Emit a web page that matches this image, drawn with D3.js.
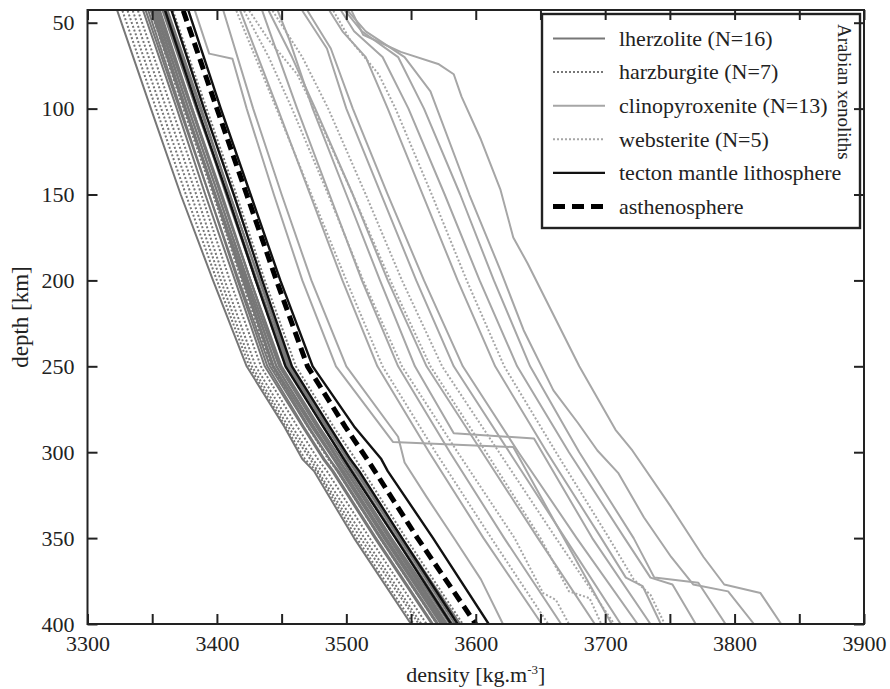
<!DOCTYPE html>
<html>
<head>
<meta charset="utf-8">
<script src="https://cdn.jsdelivr.net/npm/d3@7"></script>
<style>
  body { margin: 0; background: #fff; }
  svg text { font-family: "Liberation Serif", "DejaVu Serif", serif; fill: #222; }
</style>
</head>
<body>
<svg id="chart" width="890" height="689" font-family="Liberation Serif, serif"></svg>
<script>
// ---- data -------------------------------------------------------------
// depth levels (km) shared by the peridotite and reference profiles
const depthGrid = [43, 100, 150, 200, 250, 285, 304, 311, 350, 400];

// density (kg/m3) at each depthGrid level
const asthenosphere = [3374, 3400, 3423, 3446, 3470, 3499, 3516, 3522, 3555, 3600];

const tecton = [
  [3360, 3385, 3408, 3430, 3453, 3482, 3498, 3504, 3538, 3581],
  [3365, 3390, 3413, 3435, 3458, 3487, 3503, 3510, 3543, 3586],
  [3378, 3403, 3426, 3449, 3474, 3506, 3527, 3532, 3567, 3610]
];

const lherzolite = [
  [3323, 3349, 3372, 3397, 3423, 3452, 3466, 3475, 3506, 3550],
  [3343, 3369, 3391, 3414, 3437, 3466, 3482, 3489, 3522, 3566],
  [3345, 3371, 3394, 3417, 3441, 3470, 3487, 3493, 3526, 3570],
  [3347, 3372, 3394, 3416, 3439, 3467, 3483, 3490, 3523, 3567],
  [3349, 3375, 3398, 3421, 3444, 3473, 3490, 3496, 3529, 3573],
  [3350, 3376, 3399, 3422, 3446, 3475, 3491, 3498, 3531, 3575],
  [3351, 3376, 3398, 3420, 3443, 3471, 3487, 3494, 3527, 3571],
  [3352, 3378, 3401, 3424, 3448, 3477, 3493, 3500, 3533, 3577],
  [3353, 3378, 3401, 3423, 3446, 3474, 3491, 3497, 3530, 3574],
  [3354, 3380, 3403, 3426, 3450, 3479, 3496, 3502, 3535, 3580],
  [3355, 3381, 3403, 3426, 3449, 3478, 3494, 3500, 3534, 3578],
  [3356, 3381, 3404, 3426, 3449, 3477, 3493, 3500, 3533, 3576],
  [3358, 3384, 3408, 3431, 3455, 3484, 3501, 3507, 3541, 3586],
  [3359, 3385, 3407, 3430, 3454, 3482, 3499, 3505, 3539, 3582],
  [3361, 3387, 3410, 3433, 3457, 3486, 3503, 3509, 3543, 3588],
  [3362, 3388, 3410, 3433, 3456, 3485, 3501, 3508, 3541, 3584]
];

const harzburgite = [
  [3327, 3353, 3376, 3400, 3425, 3453, 3468, 3477, 3508, 3552],
  [3331, 3357, 3380, 3403, 3427, 3455, 3472, 3478, 3511, 3556],
  [3335, 3361, 3384, 3406, 3430, 3458, 3474, 3481, 3514, 3558],
  [3339, 3365, 3388, 3410, 3434, 3462, 3478, 3485, 3518, 3562],
  [3349, 3374, 3397, 3419, 3442, 3470, 3486, 3493, 3526, 3570],
  [3359, 3385, 3408, 3430, 3453, 3482, 3498, 3504, 3538, 3582],
  [3366, 3392, 3415, 3437, 3461, 3490, 3507, 3513, 3546, 3590]
];

// pyroxenite profiles as [depth km, density kg/m3] pairs
const clinopyroxenite = [
  [[43,3383],[68,3394],[71,3412],[100,3423],[150,3444],[200,3466],[250,3492],[294,3536],[297,3629],[350,3668],[400,3705]],
  [[43,3405],[100,3428],[150,3450],[200,3473],[250,3500],[291,3540],[306,3545],[326,3562],[351,3584],[374,3604],[400,3621]],
  [[43,3418],[100,3447],[150,3472],[200,3497],[250,3524],[300,3564],[350,3606],[400,3651]],
  [[43,3435],[60,3443],[100,3462],[150,3487],[200,3512],[250,3540],[300,3580],[350,3622],[400,3666]],
  [[43,3440],[70,3458],[100,3476],[150,3505],[200,3532],[250,3562],[300,3605],[350,3648],[400,3692]],
  [[43,3447],[60,3456],[100,3474],[150,3500],[200,3526],[250,3553],[289,3583],[292,3645],[350,3690],[400,3735]],
  [[43,3466],[65,3485],[100,3500],[150,3527],[200,3554],[250,3583],[300,3626],[350,3669],[400,3712]],
  [[43,3470],[65,3488],[100,3505],[150,3532],[200,3560],[250,3590],[300,3633],[350,3678],[400,3725]],
  [[43,3487],[55,3497],[70,3515],[100,3532],[150,3559],[200,3586],[250,3615],[300,3655],[350,3697],[373,3716],[378,3729],[400,3743]],
  [[43,3496],[55,3506],[70,3528],[100,3548],[150,3576],[200,3603],[250,3632],[300,3672],[350,3715],[373,3735],[377,3752],[400,3770]],
  [[43,3499],[55,3512],[70,3540],[100,3560],[150,3588],[200,3614],[250,3642],[287,3670],[300,3680],[350,3722],[373,3738],[376,3772],[400,3793]],
  [[43,3501],[55,3515],[70,3545],[90,3565],[150,3595],[194,3619],[229,3637],[264,3660],[283,3679],[299,3694],[312,3710],[338,3730],[361,3751],[377,3768],[381,3795],[400,3815]],
  [[43,3504],[57,3513],[67,3542],[74,3571],[80,3583],[93,3589],[118,3604],[147,3619],[175,3629],[190,3640],[250,3680],[287,3708],[299,3721],[332,3751],[361,3776],[377,3792],[382,3820],[400,3836]]
];

const websterite = [
  [[43,3415],[100,3446],[150,3473],[200,3500],[250,3528],[300,3569],[350,3612],[400,3656]],
  [[43,3421],[70,3440],[100,3458],[150,3486],[200,3513],[250,3543],[300,3586],[350,3630],[382,3652],[386,3662],[400,3672]],
  [[43,3425],[60,3440],[80,3462],[100,3475],[150,3505],[200,3534],[250,3565],[300,3608],[350,3650],[381,3672],[385,3688],[400,3697]],
  [[43,3443],[70,3466],[100,3486],[150,3515],[200,3543],[250,3574],[300,3618],[350,3662],[400,3707]],
  [[43,3490],[60,3503],[80,3525],[100,3538],[150,3566],[200,3593],[250,3622],[300,3662],[350,3703],[374,3722],[383,3735],[400,3746]]
];

const xTicks = [3300, 3350, 3400, 3450, 3500, 3550, 3600, 3650, 3700, 3750, 3800, 3850, 3900];
const yTicks = [50, 100, 150, 200, 250, 300, 350, 400];
const legendLabels = ["lherzolite (N=16)", "harzburgite (N=7)", "clinopyroxenite (N=13)",
                      "websterite (N=5)", "tecton mantle lithosphere", "asthenosphere"];

// ---- styles -------------------------------------------------------------
const SERIF = "'Liberation Serif', 'DejaVu Serif', serif";
const DARK = "#777777", LIGHT = "#a6a6a6";
const styles = [
  { stroke: DARK,  width: 2,   dash: null },
  { stroke: DARK,  width: 2,   dash: "2 2" },
  { stroke: LIGHT, width: 2,   dash: null },
  { stroke: LIGHT, width: 2,   dash: "2 2" },
  { stroke: "#111", width: 2.4, dash: null },
  { stroke: "#000", width: 5,   dash: "11 6" }
];

// ---- layout -------------------------------------------------------------
const svg = d3.select("#chart");
const plot = { left: 87.5, right: 864, top: 10, bottom: 624 };

const x = d3.scaleLinear().domain([3300, 3900]).range([plot.left, plot.right]);
const y = d3.scaleLinear().domain([42.6, 400]).range([plot.top, plot.bottom]);

svg.append("rect").attr("width", 890).attr("height", 689).attr("fill", "#fff");

svg.append("clipPath").attr("id", "plot-clip")
  .append("rect")
  .attr("x", plot.left).attr("y", plot.top)
  .attr("width", plot.right - plot.left).attr("height", plot.bottom - plot.top);

const g = svg.append("g").attr("clip-path", "url(#plot-clip)");

const pairLine = d3.line().x(d => x(d[1])).y(d => y(d[0]));
const gridLine = d3.line().x(d => x(d)).y((d, i) => y(depthGrid[i]));

function drawGroup(rows, line, style, cls) {
  g.append("g").attr("class", cls)
    .selectAll("path").data(rows).join("path")
    .attr("d", line)
    .attr("fill", "none")
    .attr("stroke", style.stroke)
    .attr("stroke-width", style.width)
    .attr("stroke-dasharray", style.dash)
    .attr("stroke-linejoin", "round");
}

drawGroup(lherzolite, gridLine, styles[0], "lherzolite");
drawGroup(harzburgite, gridLine, styles[1], "harzburgite");
drawGroup(clinopyroxenite, pairLine, styles[2], "clinopyroxenite");
drawGroup(websterite, pairLine, styles[3], "websterite");
drawGroup(tecton, gridLine, styles[4], "tecton");
drawGroup([asthenosphere], gridLine, styles[5], "asthenosphere");

// ---- legend ---------------------------------------------------------------
const legend = svg.append("g").attr("class", "legend");
legend.append("rect")
  .attr("x", 542).attr("y", 14).attr("width", 318).attr("height", 214)
  .attr("fill", "#fff").attr("stroke", "#222").attr("stroke-width", 2.4);

const rows = legend.selectAll("g.row").data(legendLabels).join("g")
  .attr("class", "row")
  .attr("transform", (d, i) => `translate(0, ${38.5 + i * 33.6})`);

rows.append("line")
  .attr("x1", 553).attr("x2", 605).attr("y1", 0).attr("y2", 0)
  .attr("stroke", (d, i) => styles[i].stroke)
  .attr("stroke-width", (d, i) => styles[i].width)
  .attr("stroke-dasharray", (d, i) => i === 5 ? "12 7" : styles[i].dash);

rows.append("text")
  .attr("x", 619).attr("y", 0).attr("dy", "0.33em")
  .style("font-family", SERIF)
  .style("font-size", "22px")
  .text(d => d);

legend.append("text")
  .attr("transform", "translate(838, 24) rotate(90)")
  .style("font-family", SERIF)
  .style("font-size", "19px")
  .text("Arabian xenoliths");

// ---- axes -----------------------------------------------------------------
const fmtX = d => (d % 100 === 0 ? d : "");

const axisB = svg.append("g").attr("transform", `translate(0, ${plot.bottom})`)
  .call(d3.axisBottom(x).tickValues(xTicks).tickSize(-10).tickPadding(11).tickFormat(fmtX));
const axisT = svg.append("g").attr("transform", `translate(0, ${plot.top})`)
  .call(d3.axisTop(x).tickValues(xTicks).tickSize(-10).tickFormat(""));
const axisL = svg.append("g").attr("transform", `translate(${plot.left}, 0)`)
  .call(d3.axisLeft(y).tickValues(yTicks).tickSize(-10).tickPadding(13));
const axisR = svg.append("g").attr("transform", `translate(${plot.right}, 0)`)
  .call(d3.axisRight(y).tickValues(yTicks).tickSize(-10).tickFormat(""));

[axisB, axisT, axisL, axisR].forEach(a => {
  a.attr("font-family", null);
  a.select(".domain").remove();
  a.selectAll(".tick line").attr("stroke", "#222").attr("stroke-width", 2);
  a.selectAll(".tick text")
    .style("font-size", "22px")
    .style("font-family", SERIF)
    .attr("fill", "#222");
});

svg.append("rect")
  .attr("x", plot.left).attr("y", plot.top)
  .attr("width", plot.right - plot.left).attr("height", plot.bottom - plot.top)
  .attr("fill", "none").attr("stroke", "#222").attr("stroke-width", 2);

// axis titles
const xTitle = svg.append("text")
  .attr("x", (plot.left + plot.right) / 2).attr("y", 682)
  .attr("text-anchor", "middle")
  .style("font-family", SERIF)
  .style("font-size", "22px");
xTitle.append("tspan").text("density [kg.m");
xTitle.append("tspan").attr("dy", "-8").style("font-size", "13px").text("-3");
xTitle.append("tspan").attr("dy", "8").text("]");

svg.append("text")
  .attr("transform", `translate(28, ${(plot.top + plot.bottom) / 2}) rotate(-90)`)
  .attr("text-anchor", "middle")
  .style("font-family", SERIF)
  .style("font-size", "23px")
  .text("depth [km]");
</script>
</body>
</html>
